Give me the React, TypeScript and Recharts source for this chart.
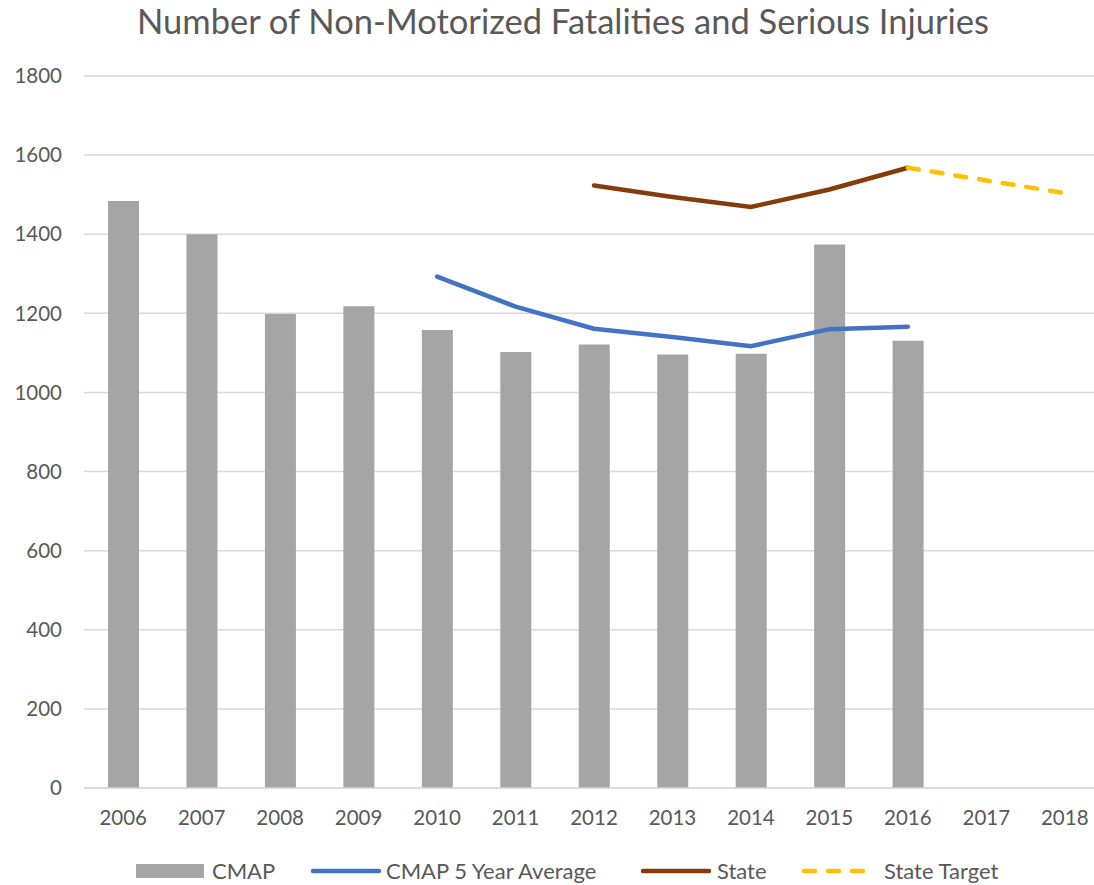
import { ComposedChart, Bar, Line, XAxis, YAxis, CartesianGrid } from "recharts";

const years = ["2006", "2007", "2008", "2009", "2010", "2011", "2012", "2013", "2014", "2015", "2016", "2017", "2018"];
const cmap = [1484, 1400, 1198, 1218, 1158, 1102, 1121, 1096, 1098, 1374, 1131, null, null];
const cmapAvg = [null, null, null, null, 1293, 1217, 1161, 1140, 1117, 1160, 1166, null, null];
const state = [null, null, null, null, null, null, 1523, 1494, 1469, 1513, 1568, null, null];
const stateTarget = [null, null, null, null, null, null, null, null, null, null, 1568, 1536, 1504];
const yTicks = [0, 200, 400, 600, 800, 1000, 1200, 1400, 1600, 1800];

const data = years.map((year, i) => ({
    year,
    cmap: cmap[i],
    cmapAvg: cmapAvg[i],
    state: state[i],
    stateTarget: stateTarget[i],
}));

const font = "Lato, 'Open Sans', sans-serif";
const textColor = "#595959";

// swatch x / label x picked to line up with the original legend
const legendItems = [
    { label: "CMAP", color: "#a5a5a5", kind: "bar", x: 136, tx: 212 },
    { label: "CMAP 5 Year Average", color: "#4472c4", kind: "line", x: 310, tx: 386 },
    { label: "State", color: "#843c0c", kind: "line", x: 640, tx: 717 },
    { label: "State Target", color: "#ffc000", kind: "dash", x: 801, tx: 884 },
];

function LegendRow() {
    return (
        <>
            {legendItems.map((item) => (
                <div key={item.label}>
                    <svg width={74} height={16} style={{ position: "absolute", left: item.x, top: 863 }}>
                        {item.kind === "bar" && <rect x={0} y={1} width={68} height={14} fill={item.color} />}
                        {item.kind === "line" && (
                            <line x1={3} y1={8} x2={69} y2={8} stroke={item.color} strokeWidth={4.5} strokeLinecap="round" />
                        )}
                        {item.kind === "dash" && (
                            <line
                                x1={3}
                                y1={8}
                                x2={72}
                                y2={8}
                                stroke={item.color}
                                strokeWidth={4.5}
                                strokeLinecap="round"
                                strokeDasharray="11 13"
                            />
                        )}
                    </svg>
                    <span
                        style={{
                            position: "absolute",
                            left: item.tx,
                            top: 857,
                            fontFamily: font,
                            fontSize: 22,
                            color: textColor,
                            whiteSpace: "nowrap",
                        }}
                    >
                        {item.label}
                    </span>
                </div>
            ))}
        </>
    );
}

export default function App() {
    return (
        <div
            style={{
                position: "absolute",
                left: 0,
                top: 0,
                width: 1094,
                height: 885,
                overflow: "hidden",
                background: "#fff",
            }}
        >
            <div
                style={{
                    position: "absolute",
                    top: 0,
                    left: 32,
                    width: 1062,
                    textAlign: "center",
                    fontFamily: font,
                    fontSize: 34.5,
                    color: textColor,
                    whiteSpace: "nowrap",
                }}
            >
                Number of Non-Motorized Fatalities and Serious Injuries
            </div>
            <ComposedChart
                width={1104}
                height={840}
                data={data}
                margin={{ top: 76, right: 0, left: 0, bottom: 0 }}
            >
                <CartesianGrid vertical={false} stroke="#d9d9d9" strokeWidth={1.5} />
                <XAxis
                    dataKey="year"
                    height={52}
                    tickLine={false}
                    axisLine={{ stroke: "#d9d9d9", strokeWidth: 1.5 }}
                    tickSize={0}
                    tickMargin={22}
                    tick={{ fill: textColor, fontSize: 20.5, fontFamily: font }}
                    interval={0}
                />
                <YAxis
                    width={84}
                    domain={[0, 1800]}
                    ticks={yTicks}
                    axisLine={false}
                    tickLine={false}
                    tickSize={0}
                    tickMargin={22}
                    tick={{ fill: textColor, fontSize: 20.5, fontFamily: font }}
                />
                <Bar dataKey="cmap" fill="#a5a5a5" barSize={31} isAnimationActive={false} />
                <Line
                    dataKey="cmapAvg"
                    stroke="#4472c4"
                    strokeWidth={4.5}
                    strokeLinecap="round"
                    dot={false}
                    type="linear"
                    isAnimationActive={false}
                />
                <Line
                    dataKey="state"
                    stroke="#843c0c"
                    strokeWidth={4.5}
                    strokeLinecap="round"
                    dot={false}
                    type="linear"
                    isAnimationActive={false}
                />
                <Line
                    dataKey="stateTarget"
                    stroke="#ffc000"
                    strokeWidth={4.5}
                    strokeLinecap="round"
                    strokeDasharray="11 13"
                    dot={false}
                    type="linear"
                    isAnimationActive={false}
                />
            </ComposedChart>
            <LegendRow />
        </div>
    );
}
